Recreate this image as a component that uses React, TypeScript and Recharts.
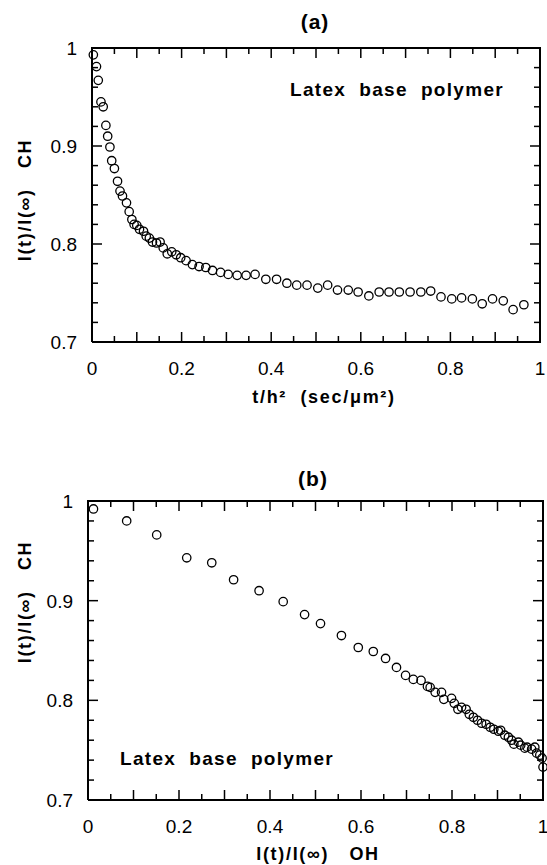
import React from 'react'
import { ScatterChart, Scatter, XAxis, YAxis } from 'recharts'

// panel (a): CH intensity vs t/h^2
const aTime = [
  0.003, 0.01, 0.014, 0.02, 0.025, 0.031, 0.035, 0.04, 0.044, 0.05, 0.057, 0.0625, 0.068,
  0.077, 0.083, 0.089, 0.094, 0.1, 0.106, 0.115, 0.121, 0.128, 0.135, 0.144, 0.152, 0.159,
  0.168, 0.178, 0.188, 0.198, 0.21, 0.224, 0.239, 0.254, 0.269, 0.287, 0.304, 0.324, 0.344,
  0.364, 0.388, 0.412, 0.435, 0.457, 0.48, 0.504, 0.526, 0.548, 0.572, 0.594, 0.618, 0.641,
  0.663, 0.686, 0.71, 0.734, 0.756, 0.779, 0.803, 0.825, 0.849, 0.871, 0.894, 0.918, 0.94,
  0.964,
]
const aCH = [
  0.993, 0.981, 0.967, 0.945, 0.94, 0.921, 0.91, 0.899, 0.885, 0.877, 0.864, 0.854, 0.849,
  0.842, 0.833, 0.825, 0.82, 0.819, 0.815, 0.813, 0.808, 0.806, 0.802, 0.801, 0.802, 0.796,
  0.79, 0.792, 0.789, 0.786, 0.783, 0.779, 0.777, 0.776, 0.773, 0.771, 0.769, 0.768, 0.768,
  0.769, 0.764, 0.764, 0.76, 0.758, 0.758, 0.755, 0.758, 0.753, 0.753, 0.751, 0.747, 0.751,
  0.751, 0.751, 0.751, 0.751, 0.752, 0.746, 0.744, 0.745, 0.744, 0.739, 0.744, 0.742, 0.733,
  0.738,
]

// panel (b): CH intensity vs OH intensity
const bOH = [
  0.012, 0.085, 0.151, 0.217, 0.272, 0.32, 0.376, 0.429, 0.476, 0.511, 0.557, 0.594, 0.627,
  0.654, 0.678, 0.698, 0.715, 0.732, 0.746, 0.752, 0.763, 0.777, 0.782, 0.799, 0.805, 0.813,
  0.821, 0.831, 0.838, 0.847, 0.856, 0.865, 0.875, 0.884, 0.892, 0.902, 0.907, 0.916, 0.924,
  0.931, 0.936, 0.946, 0.951, 0.96, 0.965, 0.975, 0.982, 0.986, 0.993, 0.998, 1.0,
]
const bCH = [
  0.992, 0.98, 0.966, 0.943, 0.938, 0.921, 0.91, 0.899, 0.886, 0.877, 0.865, 0.853, 0.849,
  0.842, 0.833, 0.825, 0.821, 0.82, 0.814, 0.813, 0.808, 0.808, 0.801, 0.802, 0.797, 0.791,
  0.793, 0.791, 0.786, 0.783, 0.78, 0.777, 0.776, 0.773, 0.771, 0.769, 0.77, 0.765, 0.763,
  0.76, 0.756, 0.758, 0.755, 0.752, 0.753, 0.751, 0.753, 0.747, 0.745, 0.742, 0.733,
]

const xDomain = [0, 1]
const yDomain = [0.7, 1]
const xTicks = [
  0, 0.05, 0.1, 0.15, 0.2, 0.25, 0.3, 0.35, 0.4, 0.45, 0.5, 0.55, 0.6, 0.65, 0.7, 0.75, 0.8,
  0.85, 0.9, 0.95, 1,
]
const yTicks = [
  0.7, 0.72, 0.74, 0.76, 0.78, 0.8, 0.82, 0.84, 0.86, 0.88, 0.9, 0.92, 0.94, 0.96, 0.98, 1,
]

const dataA = aTime.map((x, i) => ({ x, y: aCH[i] }))
const dataB = bOH.map((x, i) => ({ x, y: bCH[i] }))

const onStep = (v: number, step: number) => Math.abs(v / step - Math.round(v / step)) < 1e-6
const fmt = (v: number) => (onStep(v, 1) ? String(Math.round(v)) : v.toFixed(1))

// plot border, closed path through the domain corners
const frameData = [
  { x: xDomain[0], y: yDomain[0] },
  { x: xDomain[1], y: yDomain[0] },
  { x: xDomain[1], y: yDomain[1] },
  { x: xDomain[0], y: yDomain[1] },
  { x: xDomain[0], y: yDomain[0] },
]

// inward tick marks on all four edges, placed by the chart's own scales
const tickData = [
  ...xTicks.map((v) => ({ x: v, y: yDomain[0], side: 'b', major: onStep(v, 0.1) })),
  ...xTicks.map((v) => ({ x: v, y: yDomain[1], side: 't', major: onStep(v, 0.1) })),
  ...yTicks.map((v) => ({ x: xDomain[0], y: v, side: 'l', major: onStep(v, 0.1) })),
  ...yTicks.map((v) => ({ x: xDomain[1], y: v, side: 'r', major: onStep(v, 0.1) })),
]

const FONT = '"Liberation Sans", Arial, Helvetica, sans-serif'

const TickMark = ({ cx, cy, payload }: any) => {
  const l = payload.major ? 10 : 6
  const d =
    payload.side === 'b' ? `M${cx},${cy}V${cy - l}` :
    payload.side === 't' ? `M${cx},${cy}V${cy + l}` :
    payload.side === 'l' ? `M${cx},${cy}H${cx + l}` :
    `M${cx},${cy}H${cx - l}`
  return <path d={d} stroke="#000" strokeWidth={1.5} fill="none" />
}

const NoDot = () => <g />

const Ring = ({ cx, cy }: any) => (
  <circle cx={cx} cy={cy} r={4.2} fill="none" stroke="#000" strokeWidth={1.3} />
)

const BottomLabel = ({ x, y, payload }: any) =>
  onStep(payload.value, 0.2) ? (
    <text x={x} y={y + 33} textAnchor="middle" fontSize={19} fontFamily={FONT} fill="#000">
      {fmt(payload.value)}
    </text>
  ) : (
    <g />
  )

const LeftLabel = ({ x, y, payload }: any) =>
  onStep(payload.value, 0.1) ? (
    <text x={x - 15} y={y + 7} textAnchor="end" fontSize={19} fontFamily={FONT} fill="#000">
      {fmt(payload.value)}
    </text>
  ) : (
    <g />
  )

const bold = { fontFamily: FONT, fontWeight: 700, fill: '#000', xmlSpace: 'preserve', style: { whiteSpace: 'pre' } } as any

const PanelText = ({ t }: any) => (
  <g>
    <text x={t.title[0]} y={t.title[1]} textAnchor="middle" fontSize={21} letterSpacing={1} {...bold}>{t.name}</text>
    <text x={t.note[0]} y={t.note[1]} fontSize={19} letterSpacing={1.3} {...bold}>{'Latex  base  polymer'}</text>
    <text x={t.xt[0]} y={t.xt[1]} textAnchor="middle" fontSize={18} letterSpacing={1.7} {...bold}>{t.xLabel}</text>
    <text transform={`translate(${t.yt[0]},${t.yt[1]}) rotate(-90)`} textAnchor="middle" fontSize={18} letterSpacing={1.7} {...bold}>
      {'I(t)/I(∞)   CH'}
    </text>
  </g>
)

function Panel(props: { data: any; height: number; axisH: number; left: number; right: number; t: any }) {
  const { data, height, axisH, left, right, t } = props
  return (
    <div style={{ position: 'relative' }}>
      <ScatterChart width={547} height={height} margin={{ top: 48, right, left: 0, bottom: 0 }}>
        <XAxis
          type="number"
          dataKey="x"
          domain={xDomain}
          ticks={xTicks}
          interval={0}
          height={axisH}
          axisLine={false}
          tickLine={false}
          tickSize={0}
          tickMargin={0}
          tick={<BottomLabel />}
          label={<PanelText t={t} />}
        />
        <YAxis
          type="number"
          dataKey="y"
          domain={yDomain}
          ticks={yTicks}
          interval={0}
          width={left}
          axisLine={false}
          tickLine={false}
          tickSize={0}
          tickMargin={0}
          tick={<LeftLabel />}
        />
        <Scatter
          data={frameData}
          dataKey="y"
          line={{ stroke: '#000', strokeWidth: 2 }}
          lineType="joint"
          shape={<NoDot />}
          isAnimationActive={false}
        />
        <Scatter data={tickData} dataKey="y" shape={<TickMark />} isAnimationActive={false} />
        <Scatter data={data} dataKey="y" shape={<Ring />} isAnimationActive={false} />
      </ScatterChart>
    </div>
  )
}

const textA = { name: '(a)', title: [315, 29], note: [290, 96], xt: [324, 403], yt: [31, 200], xLabel: 't/h²  (sec/μm²)' }
const textB = { name: '(b)', title: [313, 33], note: [120, 312], xt: [318, 407], yt: [31, 149], xLabel: 'I(t)/I(∞)   OH' }

export default function App() {
  return (
    <div style={{ position: 'absolute', left: 0, top: 0, width: 547, height: 865, background: '#fff' }}>
      <Panel data={dataA} height={453} axisH={111} left={92} right={7} t={textA} />
      <Panel data={dataB} height={412} axisH={65} left={88} right={4} t={textB} />
    </div>
  )
}
